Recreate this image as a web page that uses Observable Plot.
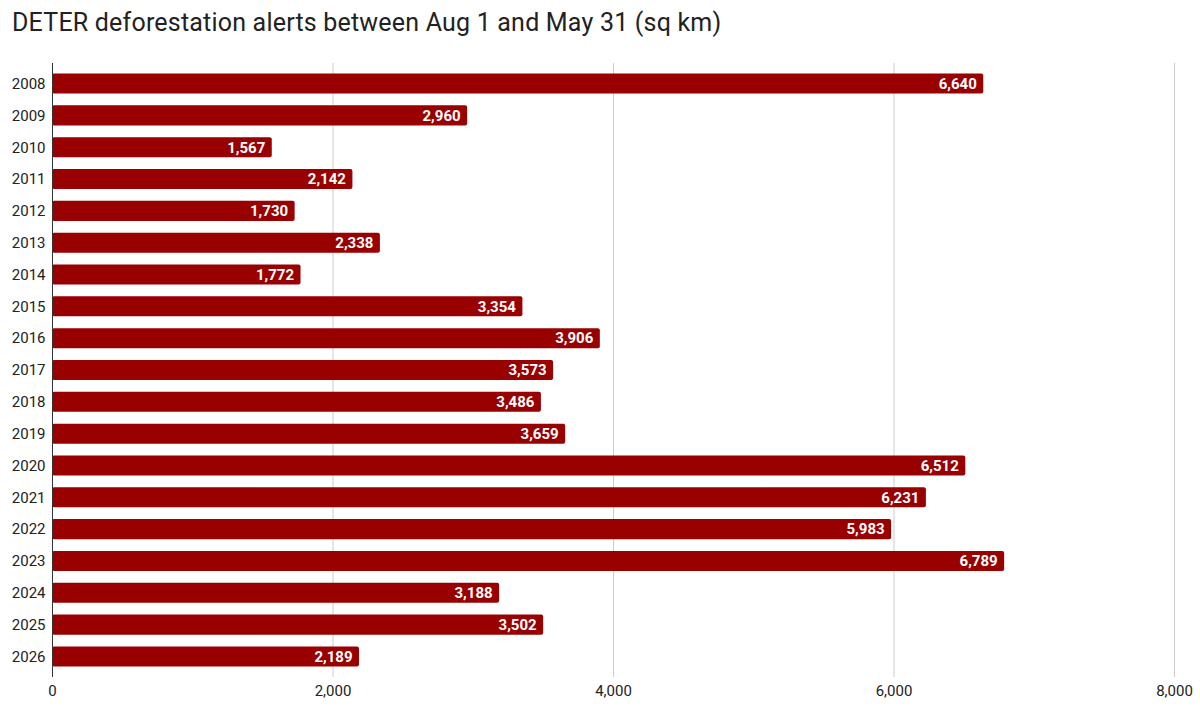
<!DOCTYPE html>
<html><head><meta charset="utf-8">
<script src="https://cdn.jsdelivr.net/npm/d3@7"></script>
<script src="https://cdn.jsdelivr.net/npm/@observablehq/plot@0.6"></script>
<style>
body{margin:0;background:#fff;font-family:Roboto,sans-serif;}
#title{height:50px;box-sizing:border-box;padding:9px 0 0 12px;font-size:25px;letter-spacing:0.2px;color:#222;line-height:28px;white-space:nowrap;}
#chart svg{display:block;}
</style></head><body>
<div id="title">DETER deforestation alerts between Aug 1 and May 31 (sq km)</div>
<div id="chart"></div>
<script>
const years = ["2008","2009","2010","2011","2012","2013","2014","2015","2016","2017","2018","2019","2020","2021","2022","2023","2024","2025","2026"];
const values = [6640,2960,1567,2142,1730,2338,1772,3354,3906,3573,3486,3659,6512,6231,5983,6789,3188,3502,2189];
const xTicks = [0,2000,4000,6000,8000];
const data = years.map((y,i)=>({year:y, value: values[i]}));
const fmt = d3.format(",");
const chart = Plot.plot({
  width:1200, height:660, marginTop:13, marginBottom:33, marginLeft:52, marginRight:26,
  style:{fontFamily:"Roboto, sans-serif", fontSize:"15px", color:"#222", background:"#fff"},
  x:{domain:[0,8000], label:null},
  y:{domain: years, paddingInner:0.37, paddingOuter:0.33, round:false, label:null},
  marks:[
    Plot.gridX(xTicks.slice(1), {stroke:"#ccc", strokeOpacity:1}),
    Plot.barX(data, {x:"value", y:"year", fill:"#990000", rx:2}),
    Plot.ruleX([0], {stroke:"#333"}),
    Plot.text(data, {x:"value", y:"year", text: d=>fmt(d.value), textAnchor:"end", dx:-7, fill:"white", fontWeight:"bold", fontSize:15}),
    Plot.axisX(xTicks, {tickSize:0, tickPadding:8, tickFormat:fmt, fontSize:15, label:null}),
    Plot.axisY({tickSize:0, tickPadding:7, fontSize:15, label:null})
  ]
});
document.getElementById("chart").append(chart);
</script>
</body></html>
